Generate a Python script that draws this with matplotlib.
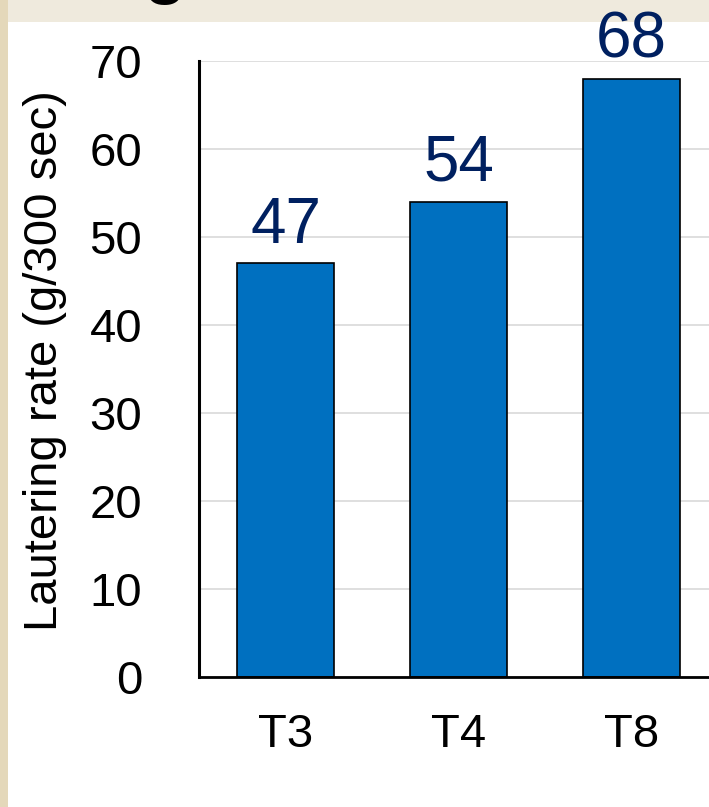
import matplotlib
matplotlib.use('Agg')
import matplotlib.pyplot as plt
from matplotlib.patches import Rectangle

plt.rcParams['font.family'] = ['Liberation Sans', 'DejaVu Sans']

categories = ['T3', 'T4', 'T8']
rates = [47, 54, 68]
y_ticks = [0, 10, 20, 30, 40, 50, 60, 70]

bar_color = '#0070C0'
label_color = '#002060'

fig = plt.figure(figsize=(7.09, 8.07), dpi=100)
fig.patch.set_facecolor('#EFEADD')

# white slide panel on textured background
fig.patches.append(Rectangle((0, 0), 8 / 709, 1, transform=fig.transFigure,
                             facecolor='#E4D8BA', edgecolor='none', zorder=-2))
fig.patches.append(Rectangle((8 / 709, 0), 1, 1 - 22 / 807, transform=fig.transFigure,
                             facecolor='white', edgecolor='none', zorder=-2))

# tail of the title text above the crop
fig.text(165 / 709, 1 + 12 / 807, 'g', fontsize=58, color='black',
         ha='center', va='baseline', zorder=1)

ax = fig.add_axes([199 / 709, 130 / 807, 519 / 709, 616 / 807])
ax.set_zorder(2)
ax.set_facecolor('none')

x = range(len(categories))
ax.bar(x, rates, width=0.56, color=bar_color, edgecolor='black',
       linewidth=1.2, zorder=3)

for xi, v in zip(x, rates):
    ax.annotate(str(v), (xi, v), xytext=(0, 15), textcoords='offset points',
                ha='center', va='baseline', fontsize=46, color=label_color)

ax.set_xlim(-0.5, 2.5)
ax.set_ylim(0, 70)
ax.set_yticks(y_ticks)
ax.set_xticks(list(x))
ax.set_xticklabels(categories)
ax.tick_params(axis='y', length=0, pad=41, labelsize=34)
ax.tick_params(axis='x', length=0, pad=26, labelsize=34)
ax.yaxis.grid(True, color='#D9D9D9', linewidth=1.2, zorder=0)
ax.set_axisbelow(True)

for side in ['top', 'right']:
    ax.spines[side].set_visible(False)
ax.spines['left'].set_linewidth(2.2)
ax.spines['bottom'].set_linewidth(2)
ax.spines['left'].set_zorder(4)
ax.spines['bottom'].set_zorder(4)

fig.text(45 / 709, 1 - 361 / 807, 'Lautering rate (g/300 sec)', fontsize=34,
         rotation=90, ha='center', va='center')

fig.savefig('out.png', dpi=100, facecolor=fig.get_facecolor())
